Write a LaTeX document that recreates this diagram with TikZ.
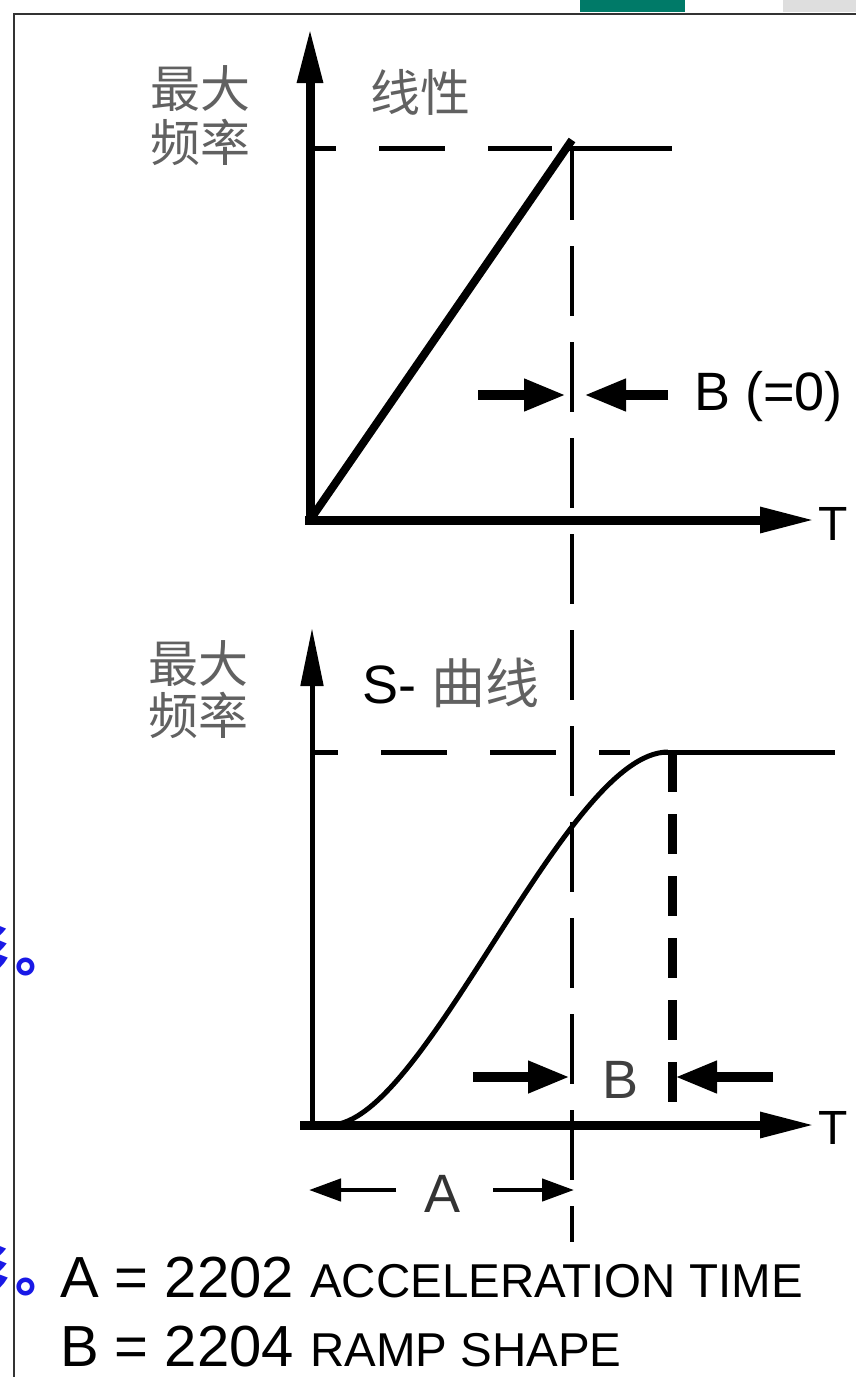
\documentclass[tikz,border=0pt]{standalone}
\usepackage{fontspec}
\setmainfont{Liberation Sans}
\newfontfamily\cjk{Noto Sans CJK SC}
\usetikzlibrary{positioning, arrows.meta, calc}
\definecolor{tabteal}{RGB}{0,122,104}
\definecolor{tabgray}{RGB}{222,222,222}
\definecolor{linkblue}{RGB}{25,25,230}
\newcommand{\bigtxt}{\fontsize{58}{62}\selectfont}
\newcommand{\captxt}{\fontsize{47.5}{52}\selectfont}

\begin{document}
\begin{tikzpicture}[
    x=1pt, y=-1pt,
    frame/.style={draw=black!80, line width=2.5pt},
    axis/.style={line width=9pt, -{Triangle[length=55pt, width=24pt]}},
    thinaxis/.style={line width=5pt, -{Triangle[length=58pt, width=22pt]}},
    maxline/.style={line width=5pt, dash pattern=on 66pt off 43pt, dash phase=40pt},
    guide/.style={line width=4pt, dash pattern=on 70pt off 26pt},
    thickguide/.style={line width=9pt, dash pattern=on 40pt off 22pt},
    dimarrow/.style={line width=10pt, -{Triangle[length=42pt, width=30pt]}},
    smallarrow/.style={line width=4.5pt, -{Triangle[length=32pt, width=22pt]}},
    cjklabel/.style={text=black!62, font=\cjk\fontsize{50}{56}\selectfont, align=center, inner sep=0pt},
    cutlabel/.style={text=linkblue, font=\cjk\bfseries\fontsize{54}{58}\selectfont, anchor=base west, inner sep=0pt},
    lbl/.style={font=\fontsize{54}{58}\selectfont, inner sep=0pt},
    axislbl/.style={font=\fontsize{48}{52}\selectfont, inner sep=0pt, anchor=west}
]
    \useasboundingbox (0,0) rectangle (856,1377);
    \fill[white] (0,0) rectangle (856,1377);

    % page around the figure
    \fill[tabteal] (580,0) rectangle (685,12);
    \fill[tabgray] (783,0) rectangle (856,12);
    \draw[frame] (14,1390) -- (14,14) -- (870,14);
    \node[cutlabel] (cut1) at (-45,971) {形\kern6pt。};
    \node[cutlabel] (cut2) at (-45,1291) {形\kern6pt。};

    % linear ramp
    \coordinate (o1) at (310,520);
    \coordinate (y1) at (310,28);
    \coordinate (x1) at (815,520);
    \coordinate (p1) at (572,140);
    \draw[line width=8pt] (o1) -- (p1);
    \draw[maxline] (o1 |- 0,148) -- (552,148);
    \draw[line width=5pt] (568,148) -- (672,148);
    \draw[axis] (305,520) -- (x1);
    \draw[axis] (310,524) -- (y1);
    \node[cjklabel] (fmax1) at (200,116) {最大\\[-2pt]频率};
    \node[cjklabel] (lin) at (420,92) {线性};
    \node[axislbl] (t1) at (818,524) {T};

    \coordinate (bl1) at (478,395);
    \coordinate (br1) at (668,395);
    \draw[dimarrow] (bl1) -- (566,395);
    \draw[dimarrow] (br1) -- (584,395);
    \node[lbl, anchor=west] (bzero) at (694,397) {B (=0)};

    % shared guide
    \draw[guide] (572,150) -- (572,1242);

    % s-curve
    \coordinate (o2) at (312,1125);
    \coordinate (y2) at (312,628);
    \coordinate (x2) at (815,1125);
    \coordinate (p2) at (668,752);
    \draw[maxline] (312,752) -- (630,752);
    \draw[line width=5pt] (664,752) -- (835,752);
    \draw[thickguide] (672,752) -- (672,1125);
    \draw[line width=5pt] (330,1125) .. controls (425,1125) and (565,752) .. (p2);
    \draw[thinaxis] (o2) -- (y2);
    \draw[axis] (300,1125) -- (x2);
    \node[cjklabel] (fmax2) at (198,690) {最大\\[-4pt]频率};
    \node[lbl, anchor=west] (scurve) at (362,683) {S- {\cjk\color{black!62}曲线}};
    \node[axislbl] (t2) at (818,1128) {T};

    \coordinate (bl2) at (473,1077);
    \coordinate (br2) at (773,1077);
    \draw[dimarrow] (bl2) -- (570,1077);
    \draw[dimarrow] (br2) -- (675,1077);
    \node[lbl, text=black!75] (bval) at (621,1080) {B};

    \coordinate (al) at (396,1190);
    \coordinate (ar) at (493,1190);
    \draw[smallarrow] (al) -- (309,1190);
    \draw[smallarrow] (ar) -- (574,1190);
    \node[lbl, text=black!80] (aval) at (443,1194) {A};

    % legend
    \node[anchor=base west, inner sep=0pt] (lega) at (60,1297) {\bigtxt A = 2202 \captxt ACCELERATION TIME};
    \node[anchor=base west, inner sep=0pt] (legb) at (60,1366) {\bigtxt B = 2204 \captxt RAMP SHAPE};
\end{tikzpicture}
\end{document}
